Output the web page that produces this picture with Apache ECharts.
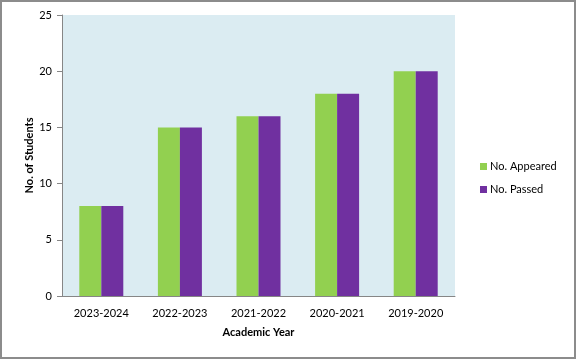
<!DOCTYPE html>
<html><head><meta charset="utf-8">
<script src="https://cdn.jsdelivr.net/npm/echarts@6/dist/echarts.min.js"></script>
<style>
html,body{margin:0;padding:0;background:#fff;}
#c{width:576px;height:359px;box-sizing:border-box;border:2px solid #8c8c8c;}
</style></head>
<body><div id="c"></div>
<script>
const categories = ['2023-2024','2022-2023','2021-2022','2020-2021','2019-2020'];
const appeared = [8,15,16,18,20];
const passed = [8,15,16,18,20];
const seriesNames = ['No. Appeared','No. Passed'];
const FONT = 'Lato, "Open Sans", sans-serif';
const chart = echarts.init(document.getElementById('c'), null, {renderer:'canvas'});
chart.setOption({
  animation:false,
  textStyle:{fontFamily:FONT},
  grid:{left:60,top:13,width:393,height:281,show:true,backgroundColor:'#dbecf2',borderWidth:0},
  legend:{
    orient:'vertical', left:473, top:154, itemWidth:7, itemHeight:7, itemGap:12,
    icon:'rect',
    textStyle:{fontSize:11,color:'#000',fontFamily:FONT,padding:[0,0,0,-2]},
    data:seriesNames
  },
  xAxis:{
    type:'category', data:categories,
    name:'Academic Year', nameLocation:'middle', nameGap:31, nameMoveOverlap:false,
    nameTextStyle:{fontSize:11,fontWeight:'bold',color:'#000',fontFamily:FONT},
    axisLine:{lineStyle:{color:'#868686'}},
    axisTick:{show:false},
    axisLabel:{fontSize:11,color:'#000',margin:12,fontFamily:FONT}
  },
  yAxis:{
    type:'value', min:0, max:25, interval:5,
    name:'No. of Students', nameLocation:'middle', nameGap:27, nameMoveOverlap:false,
    nameTextStyle:{fontSize:11,fontWeight:'bold',color:'#000',fontFamily:FONT},
    axisLine:{show:true,lineStyle:{color:'#868686'}},
    axisTick:{show:true,length:5,lineStyle:{color:'#868686'}},
    splitLine:{show:false},
    axisLabel:{fontSize:11,color:'#000',margin:10,fontFamily:FONT}
  },
  series:[
    {name:seriesNames[0],type:'bar',data:appeared,barWidth:22,barGap:'0%',itemStyle:{color:'#92d050'}},
    {name:seriesNames[1],type:'bar',data:passed,barWidth:22,barGap:'0%',itemStyle:{color:'#7030a0'}}
  ]
});
</script></body></html>
